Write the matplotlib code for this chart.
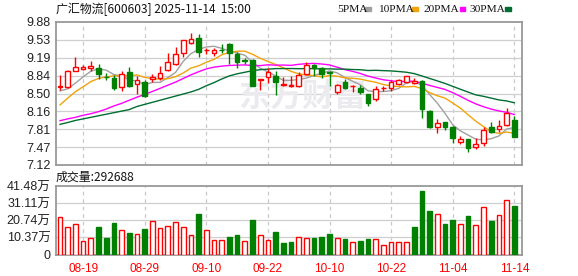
import matplotlib
matplotlib.use("Agg")
import matplotlib.pyplot as plt
from matplotlib.patches import Rectangle
import numpy as np
import pandas as pd

# daily K-line, 60 sessions
opens = [8.62, 8.62, 8.94, 8.98, 8.99, 8.99, 8.82, 8.805, 8.62, 8.92,
         8.68, 8.73, 8.78, 8.79, 8.95, 9.07, 9.29, 9.48, 9.58, 9.33,
         9.29, 9.34, 9.46, 9.26, 9.14, 9.15, 8.76, 8.81, 8.84, 8.665,
         8.645, 8.645, 8.876, 9.05, 8.99, 8.91, 8.53, 8.73, 8.64, 8.61,
         8.49, 8.39, 8.60, 8.61, 8.69, 8.73, 8.71, 8.74, 8.17, 7.86,
         7.945, 7.86, 7.57, 7.62, 7.46, 7.54, 7.85, 7.81, 7.89, 7.99]
highs = [8.86, 8.95, 9.20, 9.05, 9.13, 9.06, 8.90, 8.86, 8.93, 9.02,
         8.84, 8.76, 8.87, 9.03, 9.28, 9.40, 9.54, 9.67, 9.64, 9.38,
         9.37, 9.45, 9.47, 9.31, 9.19, 9.16, 8.78, 8.99, 8.93, 8.81,
         8.83, 8.92, 9.11, 9.06, 9.02, 8.93, 8.69, 8.78, 8.66, 8.66,
         8.50, 8.645, 8.645, 8.76, 8.78, 8.84, 8.805, 8.76, 8.18, 8.01,
         7.95, 7.87, 7.685, 7.63, 7.635, 7.86, 7.945, 7.99, 8.215, 8.07]
lows = [8.57, 8.60, 8.93, 8.95, 8.93, 8.78, 8.77, 8.57, 8.55, 8.63,
        8.50, 8.44, 8.73, 8.77, 8.93, 9.05, 9.20, 9.45, 9.20, 9.26,
        9.22, 9.29, 9.06, 9.00, 9.07, 8.64, 8.57, 8.70, 8.48, 8.65,
        8.635, 8.62, 8.857, 8.83, 8.79, 8.65, 8.49, 8.59, 8.52, 8.50,
        8.26, 8.355, 8.555, 8.55, 8.67, 8.71, 8.685, 8.02, 7.84, 7.73,
        7.80, 7.55, 7.52, 7.37, 7.42, 7.49, 7.73, 7.76, 7.87, 7.66]
closes = [8.65, 8.94, 9.02, 9.01, 9.03, 8.88, 8.81, 8.60, 8.88, 8.645,
          8.77, 8.46, 8.81, 8.89, 9.11, 9.26, 9.53, 9.55, 9.31, 9.34,
          9.33, 9.33, 9.29, 9.11, 9.13, 8.645, 8.775, 8.92, 8.73, 8.69,
          8.655, 8.857, 9.05, 9.00, 8.88, 8.90, 8.66, 8.60, 8.65, 8.53,
          8.32, 8.58, 8.61, 8.73, 8.76, 8.84, 8.75, 8.195, 7.86, 7.925,
          7.86, 7.635, 7.615, 7.455, 7.525, 7.795, 7.75, 7.875, 8.13, 7.67]

# volume in 万 shares, and whether the bar is drawn red (1) or green (0)
volume = [22.5, 16.5, 18.3, 8.2, 9.8, 16.5, 10.2, 19.1, 14.8, 12.8,
          12.2, 15.4, 20.3, 15.9, 17.4, 19.5, 16.5, 11.6, 24.5, 14.8,
          8.8, 8.8, 10.4, 11.6, 8.2, 20.9, 11.6, 8.8, 13.8, 7.1,
          7.6, 10.4, 9.8, 9.8, 10.4, 12.4, 9.8, 9.2, 7.4, 8.2,
          9.2, 9.2, 5.6, 7.4, 7.4, 7.4, 16.7, 38.5, 26.3, 24.3,
          18.3, 20.9, 18.3, 23.3, 17.7, 28.6, 20.3, 23.7, 32.8, 29.27]
vol_up = [1, 1, 1, 1, 1, 0, 0, 0, 1, 0,
          1, 0, 1, 1, 1, 1, 1, 1, 0, 1,
          1, 1, 0, 0, 1, 0, 1, 1, 0, 0,
          0, 1, 1, 0, 0, 0, 1, 0, 1, 0,
          0, 1, 1, 1, 1, 1, 0, 0, 0, 1,
          0, 0, 1, 0, 1, 1, 0, 1, 1, 0]

# moving-average values before the window is full
ma5_head = [8.55, 8.59, 8.70, 8.82]
ma10_head = [8.28, 8.41, 8.535, 8.63, 8.73, 8.79, 8.82, 8.84, 8.84]
ma20_head = [7.975, 8.01, 8.04, 8.08, 8.11, 8.15, 8.20, 8.26, 8.31, 8.37,
             8.43, 8.48, 8.54, 8.60, 8.66, 8.72, 8.79, 8.86, 8.92]
ma30_head = [7.905, 7.94, 7.98, 8.01, 8.04, 8.07, 8.10, 8.13, 8.16, 8.19,
             8.25, 8.29, 8.33, 8.37, 8.41, 8.45, 8.49, 8.53, 8.58, 8.65,
             8.71, 8.78, 8.84, 8.88, 8.91, 8.94, 8.96, 8.97, 8.98]

price_ticks = ["7.12", "7.47", "7.81", "8.16", "8.50", "8.84", "9.19", "9.53", "9.88"]
vol_ticks = ["0", "10.37万", "20.74万", "31.11万", "41.48万"]
date_pos = [3, 11, 19, 27, 35, 43, 51, 59]
date_labels = ["08-19", "08-29", "09-10", "09-22", "10-10", "10-22", "11-04", "11-14"]

RED = "#ff0000"
GREEN = "#008000"
MA_COLORS = ["#a0a0a0", "#f0a30a", "#ff00ff", "#006e32"]
FONTS = ["Liberation Sans", "Noto Sans CJK SC"]


def moving_avg(n, head):
    ma = pd.Series(closes).rolling(n).mean().values
    ma[:n - 1] = head
    return ma


W, H = 578, 276
fig = plt.figure(figsize=(W / 100, H / 100), dpi=100)
ax = fig.add_axes([56 / W, 1 - 165 / H, 466 / W, 143 / H])
axv = fig.add_axes([56 / W, 1 - 254.5 / H, 466 / W, 68.5 / H])

x = np.arange(len(closes))
o, h, l, c = map(np.array, (opens, highs, lows, closes))
up = c >= o
body_w = 0.62

for a in (ax, axv):
    for s in a.spines.values():
        s.set_color("#999999")
        s.set_linewidth(1.3)
    a.set_xlim(-0.52, 60.0)
    a.set_xticks(date_pos)
    a.tick_params(length=0)
    for p in date_pos:
        a.axvline(p, color="#c8c8c8", lw=0.9, ls=(0, (3, 3)), zorder=0)

# price panel
ax.set_ylim(7.12, 9.88)
yt = np.linspace(7.12, 9.88, len(price_ticks))
ax.set_yticks(yt)
ax.set_yticklabels(price_ticks, fontsize=9, color="#222222", family=FONTS)
for v in yt[1:-1]:
    ax.axhline(v, color="#cfcfcf", lw=0.9, zorder=0)
ax.set_xticklabels([])

ax.text(0.39, 0.47, "东方财富", transform=ax.transAxes, fontsize=23, weight="bold",
        color="#ebebef", ha="left", va="center", family=["Noto Sans CJK SC"], zorder=0)

for n, head, col in zip([5, 10, 20, 30], [ma5_head, ma10_head, ma20_head, ma30_head], MA_COLORS):
    ax.plot(x, moving_avg(n, head), color=col, lw=1.0, zorder=2)

ax.vlines(x, l, h, colors=np.where(up, RED, GREEN), lw=1.0, zorder=3)
bh = np.maximum(np.abs(c - o), 0.004)
ax.bar(x, bh, bottom=np.minimum(o, c), width=body_w,
       color=np.where(up, "white", GREEN), edgecolor=np.where(up, RED, GREEN),
       linewidth=1.0, zorder=4)

# volume panel
vmax = 41.48
axv.set_ylim(0, vmax)
vt = np.linspace(0, vmax, len(vol_ticks))
axv.set_yticks(vt)
axv.set_yticklabels(vol_ticks, fontsize=9, color="#222222", family=FONTS)
for v in vt[1:-1]:
    axv.axhline(v, color="#cfcfcf", lw=0.9, zorder=0)
vu = np.array(vol_up) == 1
axv.bar(x, volume, width=body_w, color=np.where(vu, "white", GREEN),
        edgecolor=np.where(vu, RED, GREEN), linewidth=1.0, zorder=3)
axv.set_xticklabels(date_labels, fontsize=8.5, color=RED, family=FONTS)
axv.tick_params(axis="x", pad=6)
axv.tick_params(axis="y", pad=4)
ax.tick_params(axis="y", pad=4)

# header texts
fig.text(56 / W, 1 - 9 / H, "广汇物流[600603] 2025-11-14  15:00", fontsize=8.6,
         family=["Noto Sans CJK SC", "DejaVu Sans"], va="center", ha="left", color="#111111")
fig.text(56 / W, 1 - 177 / H, "成交量:292688", fontsize=8.6,
         family=["Noto Sans CJK SC", "DejaVu Sans"], va="center", ha="left", color="#111111")

legend_x = [337, 378, 423.5, 469]
marker_x = [365, 412, 459.5, 505]
for name, tx, mx, col in zip(["5PMA", "10PMA", "20PMA", "30PMA"], legend_x, marker_x, MA_COLORS):
    fig.text(tx / W, 1 - 9 / H, name, fontsize=8.2, family=["Liberation Serif"],
             va="center", ha="left", color="#111111")
    fig.patches.append(Rectangle((mx / W, 1 - 10.5 / H), 5.5 / W, 3 / H,
                                 transform=fig.transFigure, color=col, figure=fig))

fig.savefig("out.png", dpi=100)
